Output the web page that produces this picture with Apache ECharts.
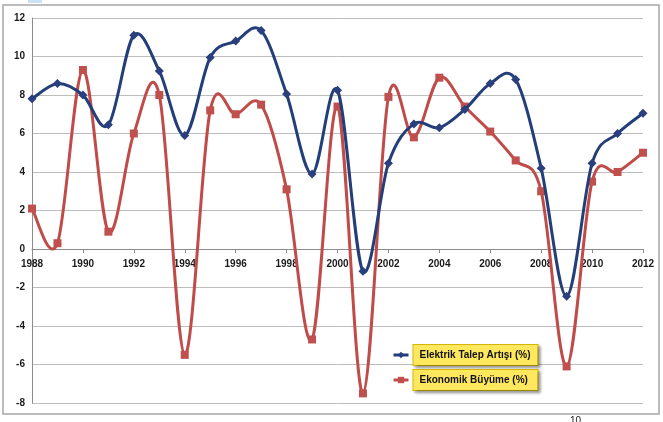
<!DOCTYPE html>
<html>
<head>
<meta charset="utf-8">
<script src="https://cdn.jsdelivr.net/npm/echarts@6/dist/echarts.min.js"></script>
<style>
html,body{margin:0;padding:0;background:#fff;}
#chart{width:663px;height:422px;}
</style>
</head>
<body>
<div id="chart"></div>
<script>
const years = [1988,1989,1990,1991,1992,1993,1994,1995,1996,1997,1998,1999,2000,2001,2002,2003,2004,2005,2006,2007,2008,2009,2010,2011,2012];
const elektrik = [7.8,8.6,8.0,6.45,11.1,9.25,5.9,9.95,10.8,11.35,8.05,3.9,8.25,-1.15,4.45,6.5,6.3,7.25,8.6,8.8,4.2,-2.45,4.45,6.0,7.05];
const ekonomik = [2.1,0.3,9.3,0.9,6.0,8.0,-5.5,7.2,7.0,7.5,3.1,-4.7,7.4,-7.5,7.9,5.8,8.9,7.4,6.1,4.6,3.0,-6.1,3.5,4.0,5.0];
const seriesNames = ['Elektrik Talep Artışı (%)','Ekonomik Büyüme (%)'];
const yTicks = {min:-8, max:12, interval:2};
const xTicks = {min:1988, max:2012, interval:2};

const BLUE = '#233e78', RED = '#bf4c49';
const chart = echarts.init(document.getElementById('chart'));
const labelFont = {fontFamily:'Liberation Sans, Arial, sans-serif', fontSize:10, fontWeight:'bold', color:'#1a1a1a'};

// Smoothed segment (Catmull-Rom style) between consecutive points, positioned via api.coord
function smoothRenderer(values, color){
  return function(params, api){
    const i = params.dataIndex;
    const n = values.length;
    if (i >= n - 1) return null;
    const P = k => api.coord([years[Math.max(0,Math.min(n-1,k))], values[Math.max(0,Math.min(n-1,k))]]);
    const p0 = P(i-1), p1 = P(i), p2 = P(i+1), p3 = P(i+2);
    const t = 1/6;
    return {
      type:'bezierCurve',
      shape:{
        x1:p1[0], y1:p1[1], x2:p2[0], y2:p2[1],
        cpx1:p1[0] + (p2[0]-p0[0])*t, cpy1:p1[1] + (p2[1]-p0[1])*t,
        cpx2:p2[0] - (p3[0]-p1[0])*t, cpy2:p2[1] - (p3[1]-p1[1])*t
      },
      style:{stroke:color, lineWidth:3, fill:null, lineCap:'round'},
      silent:true
    };
  };
}

chart.setOption({
  animation:false,
  backgroundColor:'#fff',
  grid:{left:32,right:20,top:18,bottom:19},
  xAxis:{
    type:'value', min:xTicks.min, max:xTicks.max, interval:xTicks.interval,
    offset:-154,
    axisLine:{onZero:false,lineStyle:{color:'#8c8c8c',width:1}},
    axisTick:{show:true,length:4,lineStyle:{color:'#8c8c8c'}},
    axisLabel:Object.assign({margin:10,formatter:v=>String(v)},labelFont),
    splitLine:{show:false}
  },
  yAxis:{
    type:'value', min:yTicks.min, max:yTicks.max, interval:yTicks.interval,
    axisLine:{show:true,lineStyle:{color:'#8c8c8c',width:1}},
    axisTick:{show:false},
    axisLabel:Object.assign({margin:7},labelFont),
    splitLine:{show:true,lineStyle:{color:'#bdbdbd',width:1}}
  },
  legend:{
    orient:'vertical', left:387, top:339, itemGap:3,
    itemWidth:15, itemHeight:8,
    data:[
      {name:seriesNames[0], lineStyle:{color:BLUE,width:3,opacity:1}},
      {name:seriesNames[1], lineStyle:{color:RED,width:3,opacity:1}}
    ],
    textStyle:{
      fontFamily:'Liberation Sans, Arial, sans-serif', fontSize:10, fontWeight:'bold', color:'#111',
      backgroundColor:'#FFE75E', borderColor:'#d9b800', borderWidth:1,
      padding:[5,18,5,6], width:100,
      shadowColor:'rgba(0,0,0,0.35)', shadowBlur:3, shadowOffsetX:2, shadowOffsetY:2
    }
  },
  graphic:[
    {type:'rect', shape:{x:3,y:5,width:656,height:409}, style:{fill:'none',stroke:'#a6a6a6',lineWidth:1.5}, z:-1},
    {type:'rect', shape:{x:28,y:0,width:14,height:3}, style:{fill:'#c9e3f2'}},
    {type:'text', left:570, top:416, style:{text:'10', fontSize:10, fill:'#222', fontFamily:'Liberation Sans, Arial, sans-serif'}}
  ],
  series:[
    {
      type:'custom', renderItem:smoothRenderer(ekonomik, RED),
      data:years.map((y,i)=>[y,ekonomik[i]]), z:1, silent:true
    },
    {
      type:'custom', renderItem:smoothRenderer(elektrik, BLUE),
      data:years.map((y,i)=>[y,elektrik[i]]), z:3, silent:true
    },
    {
      name:seriesNames[0], type:'line',
      data:years.map((y,i)=>[y,elektrik[i]]),
      symbol:'diamond', symbolSize:9,
      lineStyle:{color:BLUE,width:3,opacity:0},
      itemStyle:{color:'#2a3f7d'}, z:4
    },
    {
      name:seriesNames[1], type:'line',
      data:years.map((y,i)=>[y,ekonomik[i]]),
      symbol:'rect', symbolSize:8,
      lineStyle:{color:RED,width:3,opacity:0},
      itemStyle:{color:'#c0504d'}, z:2
    }
  ]
});
</script>
</body>
</html>
